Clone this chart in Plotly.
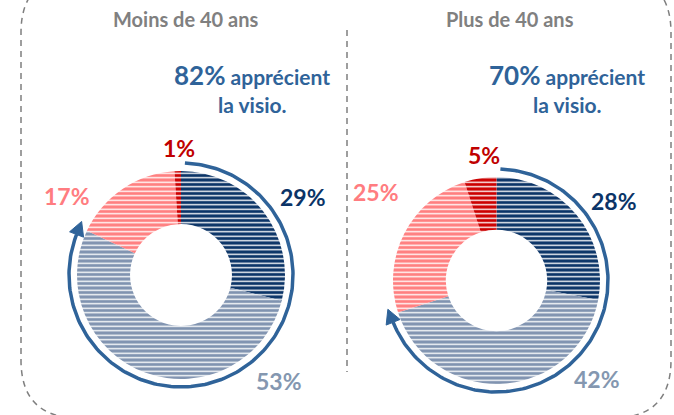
import numpy as np
import plotly.graph_objects as go

# Survey shares, clockwise from 12 o'clock
groups = ["Moins de 40 ans", "Plus de 40 ans"]
categories = ["Apprécie beaucoup", "Apprécie plutôt", "N'apprécie plutôt pas", "N'apprécie pas du tout"]
values_moins40 = [29, 53, 17, 1]
values_plus40 = [28, 42, 25, 5]

slice_colors = ["#0b3467", "#8093b0", "#ff7f80", "#cc0000"]
label_colors = ["#0b3467", "#8497b0", "#ff7c80", "#c00000"]
blue = "#2f6399"
grey = "#808080"
FONT = "Lato"

W, H = 674, 415

# geometry of each donut in pixels: centre x, centre y, outer radius
donuts = [
    dict(vals=values_moins40, cx=181, cy=275, r=104,
         label_xy=[(303, 197), (279, 381), (67, 196), (179, 148)],
         title_xy=(185, 19), note_x=252),
    dict(vals=values_plus40, cx=496.5, cy=280.5, r=103.5,
         label_xy=[(614, 201), (597, 379), (376, 192), (484, 155)],
         title_xy=(510, 19), note_x=567),
]

fig = go.Figure()
annotations = []
shapes = []

for g, d in zip(groups, donuts):
    vals = d["vals"]
    cx, cy, r = d["cx"], d["cy"], d["r"]
    fig.add_trace(go.Pie(
        values=vals, labels=categories, sort=False, direction="clockwise",
        hole=0.49, textinfo="none", hoverinfo="label+percent", showlegend=False,
        domain=dict(x=[(cx - r) / W, (cx + r) / W], y=[1 - (cy + r) / H, 1 - (cy - r) / H]),
        marker=dict(colors=slice_colors, line=dict(width=0),
                    pattern=dict(shape="-", fillmode="replace", bgcolor=slice_colors,
                                 fgcolor="white", size=4.5, solidity=0.3)),
    ))

    # value labels
    for v, (lx, ly), c in zip(vals, d["label_xy"], label_colors):
        annotations.append(dict(x=lx, y=ly, xref="x", yref="y", text=f"<b>{v}%</b>",
                                showarrow=False, font=dict(family=FONT, size=23, color=c)))

    # group heading
    annotations.append(dict(x=d["title_xy"][0], y=d["title_xy"][1], xref="x", yref="y",
                            text=f"<b>{g}</b>", showarrow=False,
                            font=dict(family=FONT, size=20, color=grey)))

    # share that appreciates (first two categories)
    share = vals[0] + vals[1]
    annotations.append(dict(
        x=d["note_x"], y=75, xref="x", yref="y",
        text=f"<b><span style='font-size:26px'>{share}%</span> apprécient</b>",
        showarrow=False, font=dict(family=FONT, size=21, color=blue)))
    annotations.append(dict(
        x=d["note_x"], y=104, xref="x", yref="y", text="<b>la visio.</b>",
        showarrow=False, font=dict(family=FONT, size=21, color=blue)))

    # curved arrow covering the appreciating share
    R = r + 8
    t0 = np.deg2rad(2)
    t1 = np.deg2rad(360 * share / 100 - 4)
    th = np.linspace(t0, t1, 200)
    fig.add_trace(go.Scatter(x=cx + R * np.sin(th), y=cy - R * np.cos(th), mode="lines",
                             line=dict(color=blue, width=3.5), hoverinfo="skip",
                             showlegend=False, xaxis="x", yaxis="y"))
    bx, by = cx + R * np.sin(t1), cy - R * np.cos(t1)
    tx, ty = np.cos(t1), np.sin(t1)          # clockwise tangent
    nx, ny = np.sin(t1), -np.cos(t1)         # outward normal
    L, Wd = 14, 7.5
    hx = [bx + nx * Wd, bx + tx * L, bx - nx * Wd, bx + nx * Wd]
    hy = [by + ny * Wd, by + ty * L, by - ny * Wd, by + ny * Wd]
    fig.add_trace(go.Scatter(x=hx, y=hy, mode="lines", fill="toself", fillcolor=blue,
                             line=dict(color=blue, width=1), hoverinfo="skip",
                             showlegend=False, xaxis="x", yaxis="y"))

# dashed frame with rounded corners and the central divider
x0, x1, y0, y1, rc = 21, 671, -25, 418, 58
frame = (f"M {x0+rc},{y0} L {x1-rc},{y0} Q {x1},{y0} {x1},{y0+rc} L {x1},{y1-rc} "
         f"Q {x1},{y1} {x1-rc},{y1} L {x0+rc},{y1} Q {x0},{y1} {x0},{y1-rc} "
         f"L {x0},{y0+rc} Q {x0},{y0} {x0+rc},{y0} Z")
shapes.append(dict(type="path", path=frame, xref="x", yref="y",
                   line=dict(color="#7f7f7f", width=1.5, dash="6px,5px")))
shapes.append(dict(type="line", x0=347, x1=347, y0=30, y1=372, xref="x", yref="y",
                   line=dict(color="#7f7f7f", width=1.5, dash="6px,5px")))

fig.update_layout(
    width=W, height=H, autosize=False,
    margin=dict(l=0, r=0, t=0, b=0),
    paper_bgcolor="white", plot_bgcolor="white",
    xaxis=dict(range=[0, W], visible=False, fixedrange=True),
    yaxis=dict(range=[H, 0], visible=False, fixedrange=True),
    annotations=annotations, shapes=shapes,
)

fig.write_html("out.html")
